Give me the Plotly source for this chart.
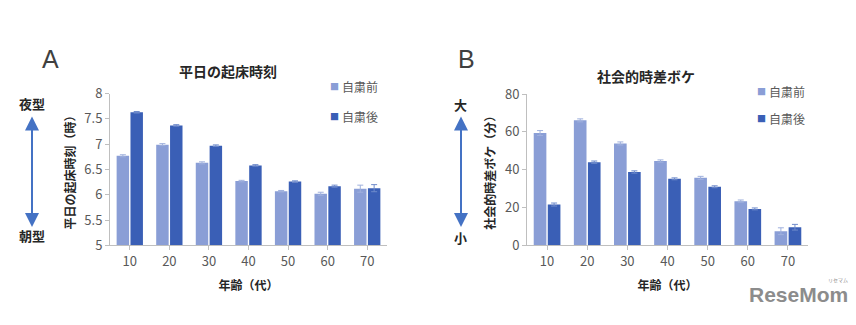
import plotly.graph_objects as go

# Age groups (decades)
ages = ["10", "20", "30", "40", "50", "60", "70"]

# A: weekday wake-up time (hours)
wake_before = [6.77, 6.99, 6.63, 6.27, 6.07, 6.02, 6.12]
wake_after = [7.63, 7.37, 6.97, 6.58, 6.26, 6.17, 6.13]
wake_before_err = [0.02, 0.02, 0.02, 0.015, 0.015, 0.03, 0.07]
wake_after_err = [0.015, 0.015, 0.015, 0.015, 0.015, 0.02, 0.07]

# B: social jetlag (minutes)
jet_before = [59.4, 66.1, 53.9, 44.6, 35.7, 23.4, 7.5]
jet_after = [21.6, 44.0, 38.8, 35.2, 31.0, 19.3, 9.6]
jet_before_err = [1.3, 0.8, 0.8, 0.6, 0.8, 0.6, 1.8]
jet_after_err = [0.8, 0.6, 0.6, 0.5, 0.5, 0.5, 1.5]

series_names = ["自粛前", "自粛後"]
LIGHT = "#8A9ED6"
DARK = "#3A5FB6"
JP = "Noto Sans CJK JP"
GRAY = "#595959"
AXIS = "#BFBFBF"

fig = go.Figure()

def add_bars(xa, ya, vals, errs, color, err_color, name):
    fig.add_trace(go.Bar(
        x=ages, y=vals, name=name, xaxis=xa, yaxis=ya,
        marker=dict(color=color, line=dict(width=0)),
        error_y=dict(type="data", array=errs, color=err_color, thickness=1, width=3),
        showlegend=False,
    ))

add_bars("x", "y", wake_before, wake_before_err, LIGHT, "#9FB0DD", series_names[0])
add_bars("x", "y", wake_after, wake_after_err, DARK, "#6F8BCB", series_names[1])
add_bars("x2", "y2", jet_before, jet_before_err, LIGHT, "#9FB0DD", series_names[0])
add_bars("x2", "y2", jet_after, jet_after_err, DARK, "#6F8BCB", series_names[1])

W, H = 856, 325
def px(x):
    return x / W
def py(y):
    return 1 - y / H

xcommon = dict(type="category", showgrid=False, showline=True, linecolor=AXIS,
               linewidth=1, ticks="outside", ticklen=4, tickcolor=AXIS,
               tickfont=dict(family=JP, size=13, color=GRAY), zeroline=False,
               title=dict(text="年齢（代）", font=dict(family=JP, size=12, color="#262626",
                                                    weight="bold"), standoff=12))
ycommon = dict(showgrid=False, showline=True, linecolor=AXIS, linewidth=1,
               ticks="outside", ticklen=4, tickcolor=AXIS, zeroline=False,
               tickfont=dict(family=JP, size=13, color=GRAY))

fig.update_layout(
    width=W, height=H, autosize=False,
    margin=dict(l=0, r=0, t=0, b=0),
    paper_bgcolor="white", plot_bgcolor="white",
    barmode="group", bargap=0.3, bargroupgap=0.1,
    xaxis=dict(domain=[px(110), px(387)], anchor="y", range=[-0.5, 6.5], **xcommon),
    yaxis=dict(domain=[py(250), py(88.7)], anchor="x", range=[5, 8], dtick=0.5,
               title=dict(text="平日の起床時刻（時）",
                          font=dict(family=JP, size=12, color="#262626", weight="bold"),
                          standoff=6),
               **ycommon),
    xaxis2=dict(domain=[px(527), px(808)], anchor="y2", range=[-0.5, 6.5], **xcommon),
    yaxis2=dict(domain=[py(250), py(89.3)], anchor="x2", range=[0, 80], dtick=20,
                title=dict(text="社会的時差ボケ（分）",
                           font=dict(family=JP, size=12, color="#262626", weight="bold"),
                           standoff=6),
                **ycommon),
)

ann = []
def text(x, y, s, size, color="#262626", bold=False, xanchor="center", family=JP):
    ann.append(dict(x=px(x), y=py(y), xref="paper", yref="paper", text=s,
                    showarrow=False, xanchor=xanchor, yanchor="middle",
                    font=dict(family=family, size=size, color=color,
                              weight="bold" if bold else "normal")))

# Panel letters and titles
text(50, 52, "A", 25, "#404040", family="Liberation Sans")
text(466, 52, "B", 25, "#404040", family="Liberation Sans")
text(228, 65, "平日の起床時刻", 14, bold=True)
text(646, 70, "社会的時差ボケ", 14, bold=True)

# Legends (square marker + label)
for (x0, y0, name, col) in [(328, 81, series_names[0], LIGHT), (328, 113, series_names[1], DARK),
                            (755, 87, series_names[0], LIGHT), (755, 115, series_names[1], DARK)]:
    text(x0, y0, "■", 9, col, xanchor="left")
    text(x0 + 12, y0, name, 12, GRAY, xanchor="left")

# Direction labels and arrows
text(32, 99, "夜型", 13, bold=True)
text(32, 240, "朝型", 13, bold=True)
text(461, 100, "大", 13, bold=True)
text(461, 242, "小", 13, bold=True)
for ax_x in (32, 461):
    ann.append(dict(x=px(ax_x), y=py(113), xref="paper", yref="paper",
                    ax=0, ay=112, text="", showarrow=True, arrowhead=2,
                    arrowside="end+start", arrowsize=1.4, arrowwidth=2,
                    arrowcolor="#4472C4"))

# Site mark
text(798, 302, "ReseMom", 21, "#8C8C8C", bold=True, family="Liberation Sans")
text(838, 287, "リセマム", 5, "#8C8C8C")

fig.update_layout(annotations=ann)
fig.write_html("out.html")
